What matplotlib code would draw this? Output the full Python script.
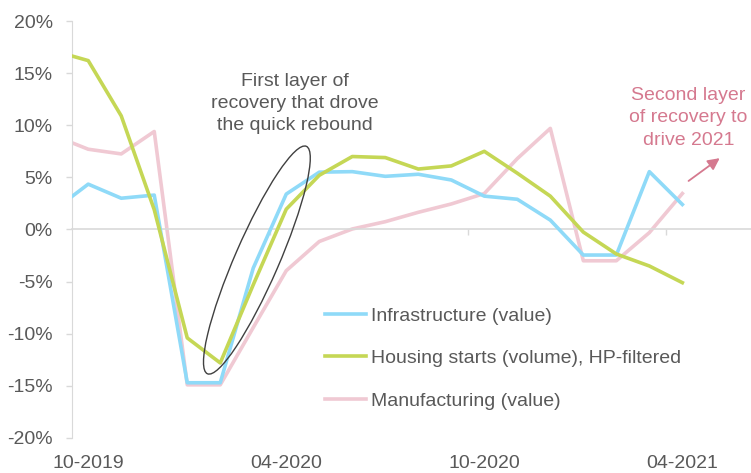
import numpy as np
import matplotlib.pyplot as plt
from matplotlib.patches import Ellipse
from matplotlib.transforms import ScaledTranslation, blended_transform_factory
from matplotlib.ticker import FuncFormatter

plt.rcParams['font.family'] = ['Liberation Sans', 'DejaVu Sans']

# month index: the first value sits half a month before 10-2019 (on the y axis)
months = [-0.5] + list(range(19))
tick_labels = ["10-2019", "04-2020", "10-2020", "04-2021"]
tick_pos = [0, 6, 12, 18]

infrastructure = [3.15, 4.35, 3.0, 3.3, -14.7, -14.7, -3.7, 3.4, 5.5, 5.55, 5.1, 5.3,
                  4.75, 3.2, 2.9, 0.9, -2.45, -2.45, 5.55, 2.4]
housing = [16.65, 16.2, 10.9, 1.9, -10.4, -12.8, -5.3, 1.95, 5.2, 7.0, 6.9, 5.8,
           6.1, 7.5, 5.4, 3.2, -0.25, -2.35, -3.5, -5.1]
manufacturing = [8.33, 7.7, 7.25, 9.4, -14.9, -14.9, -9.4, -3.95, -1.15, 0.05, 0.75, 1.65,
                 2.45, 3.45, 6.8, 9.7, -3.0, -3.0, -0.3, 3.45]

gray = "#595959"
axis_col = "#D9D9D9"
pink = "#D5798F"
fs = 14

fig = plt.figure(figsize=(7.51, 4.73), dpi=100)
ax = fig.add_axes([0.0955, 0.074, 0.9045, 0.8816])

ax.plot(months, infrastructure, color="#8FDAF8", lw=2.6, label="Infrastructure (value)", zorder=3)
ax.plot(months, housing, color="#C5D755", lw=2.6, label="Housing starts (volume), HP-filtered", zorder=4)
ax.plot(months, manufacturing, color="#F0C9D3", lw=2.6, label="Manufacturing (value)", zorder=2)

ax.set_xlim(-0.5, 20.08)
ax.set_ylim(-20, 20)
ax.set_yticks(np.arange(-20, 21, 5))
ax.yaxis.set_major_formatter(FuncFormatter(lambda v, p: f"{v:.0f}%"))
ax.tick_params(axis='y', colors=axis_col, labelcolor=gray, labelsize=fs, length=4, width=1, pad=9.5)

ax.spines['top'].set_visible(False)
ax.spines['right'].set_visible(False)
ax.spines['left'].set_color(axis_col)
ax.spines['bottom'].set_color(axis_col)
ax.spines['bottom'].set_linewidth(1.2)
ax.spines['bottom'].set_position(('data', 0))
ax.set_xticks([5.5, 11.5, 17.5])
ax.set_xticklabels([])
ax.tick_params(axis='x', colors=axis_col, length=4, width=1)

# category labels sit at the bottom of the plot, not on the zero line
trans = blended_transform_factory(ax.transData, ax.transAxes)
for p, lab in zip(tick_pos, tick_labels):
    ax.text(p, -0.06, lab, transform=trans, ha='center', va='center', fontsize=fs, color=gray)

# first annotation + ellipse
ax.text(6.25, 12.1, "First layer of\nrecovery that drove\nthe quick rebound", ha='center', va='center',
        fontsize=fs, color=gray, linespacing=1.4)
ell = Ellipse((0, 0), width=2.48, height=0.44, angle=66.5, fill=False, edgecolor="#404040", lw=1,
              transform=fig.dpi_scale_trans + ScaledTranslation(5.11, -2.93, ax.transData), zorder=5)
ax.add_patch(ell)

# second annotation + arrow
ax.text(18.18, 10.7, "Second layer\nof recovery to\ndrive 2021", ha='center', va='center',
        fontsize=fs, color=pink, linespacing=1.4)
ax.annotate("", xy=(19.2, 7.0), xytext=(18.12, 4.5),
            arrowprops=dict(arrowstyle="-|>,head_length=0.7,head_width=0.35", color=pink, lw=1.3))

ax.legend(loc='upper left', bbox_to_anchor=(0.361, 0.333), frameon=False, fontsize=fs,
          labelcolor=gray, handlelength=2.1, handletextpad=0.3, labelspacing=1.28,
          borderaxespad=0)

fig.savefig("out.png", dpi=100)
